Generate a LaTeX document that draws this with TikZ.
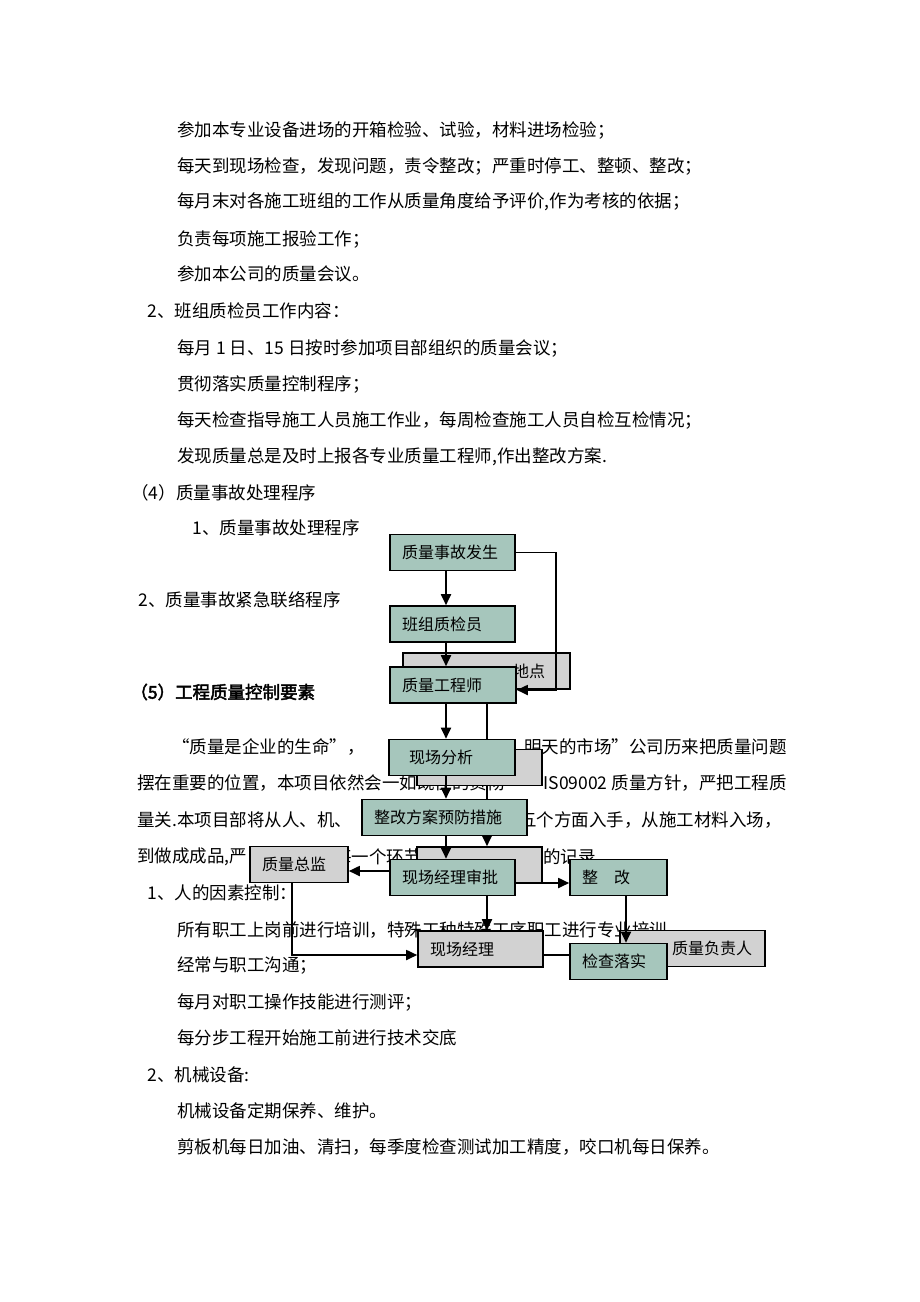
\documentclass[tikz,border=0pt]{standalone}
\usepackage{fontspec}
\setmainfont{Noto Sans CJK SC}[AutoFakeBold=2.5]
\usetikzlibrary{arrows.meta, backgrounds}
\tikzset{>={Triangle[width=5pt,length=5.5pt]}}
\definecolor{boxteal}{RGB}{166,198,188}
\definecolor{marble}{RGB}{210,210,210}
\newcommand\bodyfont{\fontsize{8.75}{10}\selectfont}
\newcommand\boxfont{\fontsize{8}{9}\selectfont}
\tikzset{
  para/.style={anchor=west, inner sep=0pt, font=\bodyfont},
  flowbox/.style={draw, line width=0.8pt, fill=boxteal, inner xsep=6pt, inner ysep=0pt,
    minimum height=18pt, text width=#1, align=left, font=\boxfont},
  marblebox/.style={flowbox=#1, fill=marble},
  link/.style={line width=0.9pt}
}

\begin{document}
\begin{tikzpicture}[x=0.5pt, y=-0.5pt]
\useasboundingbox (0,0) rectangle (920,1302);

% page text
\node[para] (t1) at (177,130) {参加本专业设备进场的开箱检验、试验，材料进场检验；};
\node[para] (t2) at (177,166) {每天到现场检查，发现问题，责令整改；严重时停工、整顿、整改；};
\node[para] (t3) at (177,202) {每月末对各施工班组的工作从质量角度给予评价,作为考核的依据；};
\node[para] (t4) at (177,239) {负责每项施工报验工作；};
\node[para] (t5) at (177,274) {参加本公司的质量会议。};
\node[para] (t6) at (147,311) {2、班组质检员工作内容：};
\node[para] (t7) at (177,348) {每月 1 日、15 日按时参加项目部组织的质量会议；};
\node[para] (t8) at (177,384) {贯彻落实质量控制程序；};
\node[para] (t9) at (177,420) {每天检查指导施工人员施工作业，每周检查施工人员自检互检情况；};
\node[para] (t10) at (177,457) {发现质量总是及时上报各专业质量工程师,作出整改方案.};
\node[para] (h4) at (131,493) {（4）质量事故处理程序};
\node[para] (s1) at (192,528) {1、质量事故处理程序};
\node[para] (s2) at (138,600) {2、质量事故紧急联络程序};
\node[para, font=\bodyfont\bfseries] (h5) at (130,692) {（5）工程质量控制要素};
\node[para] (p1a) at (172,747) {“质量是企业的生命”，};
\node[para] (p1b) at (385,747) {“};
\node[para, anchor=east] (p1c) at (787,747) {明天的市场”公司历来把质量问题};
\node[para] (p2a) at (137,783) {摆在重要的位置，本项目依然会一如既往的贯彻};
\node[para, anchor=east] (p2b) at (787,783) {IS09002 质量方针，严把工程质};
\node[para] (p3a) at (137,820) {量关.本项目部将从人、机、};
\node[para, anchor=east] (p3b) at (782,820) {五个方面入手，从施工材料入场，};
\node[para] (p4a) at (137,857) {到做成成品,严};
\node[para] (p4b) at (334,857) {每一个环节};
\node[para] (p4c) at (543,857) {的记录};
\node[para] (m1) at (147,893) {1、人的因素控制：};
\node[para] (m2) at (177,930) {所有职工上岗前进行培训，特殊工种特殊工序职工进行专业培训.};
\node[para] (m3) at (177,966) {经常与职工沟通；};
\node[para] (m4) at (177,1002) {每月对职工操作技能进行测评；};
\node[para] (m5) at (177,1038) {每分步工程开始施工前进行技术交底};
\node[para] (q1) at (147,1075) {2、机械设备:};
\node[para] (q2) at (177,1111) {机械设备定期保养、维护。};
\node[para] (q3) at (177,1147) {剪板机每日加油、清扫，每季度检查测试加工精度，咬口机每日保养。};

% flow chart
\node[marblebox=58.5pt, inner xsep=12.5pt, align=right] (place) at (486.5,671) {地点};
\node[marblebox=50.5pt] (anabg) at (479.5,767.5) {};
\node[marblebox=50.5pt] (apprbg) at (479.5,865) {};
\node[marblebox=37pt] (chief) at (299,864.5) {质量总监};
\node[marblebox=50.5pt] (mgr) at (480.5,949) {现场经理};
\node[marblebox=59.5pt, inner xsep=6.5pt, align=right] (resp) at (692.5,948.5) {质量负责人};

\node[flowbox=50.5pt] (acc) at (452.5,552.5) {质量事故发生};
\node[flowbox=50.5pt] (insp) at (452.5,624) {班组质检员};
\node[flowbox=51pt] (eng) at (453,685) {质量工程师};
\node[flowbox=43pt, inner xsep=10pt] (ana) at (452,757.5) {现场分析};
\node[flowbox=70.5pt] (plan) at (444.5,817.5) {整改方案预防措施};
\node[flowbox=50.5pt] (appr) at (452.5,877.5) {现场经理审批};
\node[flowbox=36.5pt] (fix) at (618.5,877.5) {整　改};
\node[flowbox=36.5pt] (check) at (618.5,961.5) {检查落实};

\coordinate (vl) at (446,0);
\coordinate (vr) at (487,0);
\coordinate (vf) at (626,0);
\coordinate (lp) at (556,690);
\coordinate (ya) at (0,871);
\coordinate (yb) at (0,883);
\coordinate (yc) at (292,955);

\begin{scope}[on background layer]
\draw[link,->] (eng.south -| vr) -- (apprbg.north -| vr);
\end{scope}
\draw[link,->] (acc.south -| vl) -- (insp.north -| vl);
\draw[link,->] (insp.south -| vl) -- (eng.north -| vl);
\draw[link,->] (acc.east) -| (lp) -- (eng.east |- lp);
\draw[link,->] (eng.south -| vl) -- (ana.north -| vl);
\draw[link,->] (ana.south -| vl) -- (plan.north -| vl);
\draw[link,->] (plan.south -| vl) -- (appr.north -| vl);
\draw[link,->] (appr.west |- ya) -- (chief.east |- ya);
\draw[link,->] (appr.east |- yb) -- (fix.west |- yb);
\draw[link,->] (appr.south -| vr) -- (mgr.north -| vr);
\draw[link,->] (chief.south -| yc) -- (yc) -- (mgr.west |- yc);
\draw[link,->] (fix.south -| vf) -- (check.north -| vf);
\draw[link] (mgr.east |- yc) -- (check.west |- yc);
\end{tikzpicture}
\end{document}
